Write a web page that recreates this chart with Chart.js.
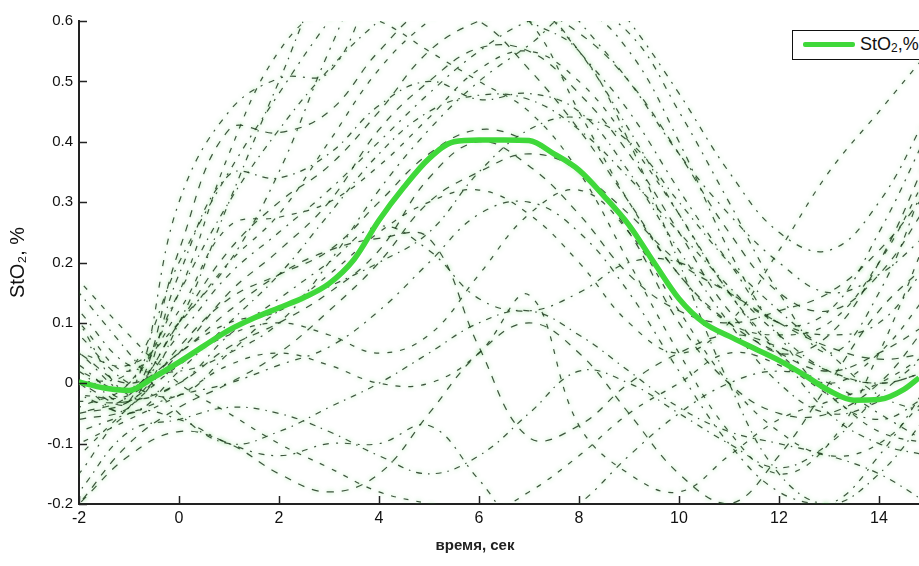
<!DOCTYPE html>
<html>
<head>
<meta charset="utf-8">
<script src="https://cdn.jsdelivr.net/npm/chart.js@4"></script>
<style>
  body { margin: 0; background: #fff; overflow: hidden; }
  #wrap { position: relative; width: 919px; height: 566px; }
  #legend {
    position: absolute; left: 792px; top: 30px; width: 150px; height: 28px;
    border: 1.5px solid #111; background: #fff;
    font-family: "Liberation Sans", Arial, sans-serif; font-size: 18px; color: #111;
  }
  #legend .swatch { position: absolute; left: 10px; top: 11px; width: 52px; height: 5px; background: #3fd83a; border-radius: 2px; }
  #legend .txt { position: absolute; left: 67px; top: 3px; }
  #legend sub { font-size: 12px; vertical-align: -2px; }
  #xtitle {
    position: absolute; left: 375px; width: 200px; top: 536px; text-align: center;
    font-family: "Liberation Sans", Arial, sans-serif; font-size: 15px; font-weight: bold; color: #222;
  }
</style>
</head>
<body>
<div id="wrap">
  <canvas id="chart" width="919" height="566"></canvas>
  <div id="legend"><span class="swatch"></span><span class="txt">StO<sub>2</sub>,%</span></div>
  <div id="xtitle">время, сек</div>
</div>
<script>
// averaged StO2 response
const mainX = [-2, -1.5, -1, -0.5, 0, 0.5, 1, 1.5, 2, 2.5, 3, 3.5, 4, 4.5, 5, 5.5, 6, 6.5, 7, 7.5, 8, 8.5, 9, 9.5, 10, 10.5, 11, 11.5, 12, 12.5, 13, 13.5, 14, 14.5, 14.8];
const mainY = [0.002, -0.008, -0.012, 0.01, 0.035, 0.062, 0.088, 0.108, 0.125, 0.142, 0.165, 0.205, 0.27, 0.325, 0.372, 0.4, 0.403, 0.403, 0.402, 0.38, 0.353, 0.31, 0.262, 0.2, 0.14, 0.1, 0.078, 0.058, 0.038, 0.014, -0.012, -0.028, -0.027, -0.01, 0.009];

// single trials (dashed background)
const trialX = [-2, -1, 0, 1, 2, 3, 4, 5, 6, 7, 8, 9, 10, 11, 12, 13, 14, 15];
const trial01 = [0.03, -0.02, 0.3, 0.45, 0.505, 0.515, 0.68, 0.8, 0.78, 0.7, 0.6, 0.5, 0.38, 0.28, 0.2, 0.15, 0.18, 0.25];
const trial02 = [0.0, -0.03, 0.22, 0.42, 0.415, 0.45, 0.55, 0.62, 0.6, 0.52, 0.42, 0.3, 0.18, 0.1, 0.05, 0.02, 0.05, 0.1];
const trial03 = [-0.02, -0.04, 0.18, 0.345, 0.34, 0.38, 0.46, 0.5, 0.47, 0.48, 0.45, 0.35, 0.22, 0.1, 0.0, -0.05, -0.03, 0.02];
const trial04 = [0.1, 0.02, 0.12, 0.26, 0.275, 0.3, 0.36, 0.44, 0.52, 0.55, 0.5, 0.4, 0.28, 0.15, 0.05, 0.0, 0.05, 0.15];
const trial05 = [0.05, -0.01, 0.1, 0.2, 0.35, 0.55, 0.72, 0.8, 0.75, 0.65, 0.55, 0.45, 0.32, 0.2, 0.1, 0.12, 0.25, 0.42];
const trial06 = [-0.05, -0.03, 0.05, 0.15, 0.22, 0.3, 0.42, 0.5, 0.555, 0.55, 0.48, 0.38, 0.25, 0.12, 0.05, 0.08, 0.2, 0.38];
const trial07 = [0.0, -0.05, 0.02, 0.1, 0.18, 0.28, 0.38, 0.45, 0.477, 0.47, 0.42, 0.34, 0.25, 0.16, 0.08, 0.02, 0.0, 0.02];
const trial08 = [-0.1, -0.06, -0.02, 0.03, 0.05, 0.03, 0.0, 0.0, 0.05, 0.146, -0.07, -0.15, -0.18, -0.12, -0.06, -0.03, 0.0, 0.05];
const trial09 = [-0.15, -0.05, -0.06, -0.1, -0.12, -0.1, -0.1, -0.07, -0.16, -0.25, -0.2, -0.12, -0.05, 0.0, 0.02, 0.0, -0.05, -0.1];
const trial10 = [0.05, 0.0, 0.05, 0.12, 0.18, 0.22, 0.24, 0.24, 0.06, -0.09, -0.07, 0.0, 0.05, 0.08, 0.06, 0.02, 0.0, 0.02];
const trial11 = [0.0, 0.0, 0.15, 0.3, 0.42, 0.52, 0.6, 0.66, 0.68, 0.64, 0.55, 0.42, 0.28, 0.15, 0.05, -0.05, -0.1, -0.12];
const trial12 = [-0.02, -0.02, 0.05, 0.1, 0.12, 0.18, 0.25, 0.3, 0.32, 0.28, 0.2, 0.1, 0.05, 0.1, 0.22, 0.35, 0.45, 0.55];
const trial13 = [-0.08, -0.05, -0.02, 0.0, 0.03, 0.06, 0.12, 0.2, 0.28, 0.3, 0.25, 0.15, 0.02, -0.1, -0.18, -0.2, -0.12, 0.0];
const trial14 = [-0.2, -0.1, -0.04, 0.0, 0.05, 0.12, 0.2, 0.3, 0.35, 0.38, 0.35, 0.25, 0.1, 0.0, -0.05, -0.05, 0.0, 0.1];
const trial15 = [0.15, 0.05, -0.05, -0.1, -0.08, -0.04, 0.0, 0.05, 0.1, 0.12, 0.08, 0.02, -0.04, -0.08, -0.1, -0.12, -0.15, -0.2];
const trial16 = [0.17, 0.08, 0.0, -0.05, -0.1, -0.14, -0.18, -0.2, -0.22, -0.18, -0.12, -0.05, 0.0, 0.05, 0.03, -0.02, -0.08, -0.1];
const trial17 = [0.0, 0.02, 0.2, 0.35, 0.48, 0.6, 0.7, 0.78, 0.8, 0.78, 0.7, 0.6, 0.48, 0.35, 0.25, 0.22, 0.3, 0.45];
const trial18 = [-0.05, -0.02, 0.1, 0.22, 0.3, 0.36, 0.45, 0.55, 0.6, 0.62, 0.58, 0.5, 0.38, 0.25, 0.15, 0.12, 0.18, 0.3];
const trial19 = [0.08, 0.0, -0.02, 0.05, 0.12, 0.16, 0.2, 0.25, 0.35, 0.42, 0.44, 0.4, 0.3, 0.2, 0.12, 0.05, -0.02, -0.05];
const trial20 = [-0.12, -0.04, 0.03, 0.08, 0.1, 0.08, 0.05, 0.08, 0.18, 0.28, 0.32, 0.25, 0.12, 0.0, -0.08, -0.12, -0.1, -0.02];
const trial21 = [0.02, -0.01, 0.08, 0.18, 0.25, 0.32, 0.4, 0.48, 0.55, 0.6, 0.62, 0.55, 0.4, 0.22, 0.08, -0.02, -0.06, -0.02];
const trial22 = [-0.03, -0.03, 0.0, 0.06, 0.1, 0.15, 0.22, 0.34, 0.4, 0.36, 0.28, 0.18, 0.12, 0.1, 0.12, 0.15, 0.22, 0.32];
const trial23 = [-0.18, -0.08, -0.06, -0.04, -0.05, -0.08, -0.12, -0.15, -0.12, -0.05, 0.02, 0.0, -0.05, -0.1, -0.14, -0.1, -0.02, 0.05];
const trial24 = [0.05, 0.03, 0.1, 0.2, 0.28, 0.4, 0.52, 0.6, 0.65, 0.6, 0.45, 0.3, 0.18, 0.1, 0.08, 0.1, 0.2, 0.35];
const trial25 = [0.1, -0.02, 0.0, 0.08, 0.14, 0.2, 0.26, 0.22, 0.14, 0.12, 0.15, 0.2, 0.2, 0.15, 0.1, 0.08, 0.1, 0.2];
const trial26 = [-0.06, -0.04, 0.06, 0.14, 0.18, 0.22, 0.3, 0.38, 0.42, 0.4, 0.35, 0.28, 0.2, 0.15, 0.1, 0.06, 0.04, 0.05];
const trial27 = [0.02, -0.03, 0.1, 0.3, 0.5, 0.68, 0.75, 0.72, 0.65, 0.6, 0.55, 0.4, 0.2, 0.0, -0.15, -0.2, -0.15, -0.05];
const trial28 = [-0.04, 0.0, 0.15, 0.38, 0.55, 0.62, 0.6, 0.55, 0.5, 0.45, 0.35, 0.2, 0.05, -0.08, -0.15, -0.1, 0.05, 0.25];
const trial29 = [0.12, 0.03, 0.02, 0.05, 0.1, 0.2, 0.32, 0.42, 0.5, 0.56, 0.62, 0.58, 0.45, 0.3, 0.15, 0.05, 0.15, 0.35];
const trial30 = [-0.2, -0.12, -0.08, -0.1, -0.15, -0.18, -0.15, -0.05, 0.05, 0.1, 0.05, -0.05, -0.15, -0.2, -0.12, 0.0, 0.12, 0.2];

const xTicks = [-2, 0, 2, 4, 6, 8, 10, 12, 14];
const yTicks = [-0.2, -0.1, 0, 0.1, 0.2, 0.3, 0.4, 0.5, 0.6];
const yTickLabels = ['-0.2', '-0.1', '0', '0.1', '0.2', '0.3', '0.4', '0.5', '0.6'];

const trials = [trial01, trial02, trial03, trial04, trial05, trial06, trial07, trial08, trial09, trial10, trial11, trial12, trial13, trial14, trial15,
  trial16, trial17, trial18, trial19, trial20, trial21, trial22, trial23, trial24, trial25, trial26, trial27, trial28, trial29, trial30];
const dashes = [[6, 7, 2, 7], [7, 8], [6, 6, 1.5, 6], [5, 8]];

const datasets = [{
  label: 'StO2,%',
  data: mainX.map((x, i) => ({ x: x, y: mainY[i] })),
  borderColor: '#3fd83a',
  borderWidth: 5.5,
  pointRadius: 0,
  cubicInterpolationMode: 'monotone'
}];
trials.forEach((vals, k) => {
  datasets.push({
    label: 'trial' + (k + 1),
    data: vals.map((y, i) => ({ x: trialX[i], y: y })),
    borderColor: 'rgba(30,55,30,0.85)',
    borderWidth: 1.2,
    borderDash: dashes[k % dashes.length],
    borderDashOffset: k * 3,
    pointRadius: 0,
    tension: 0.4
  });
});

// green halo around the thin trial lines
const glow = {
  id: 'glow',
  beforeDatasetDraw(chart, args) {
    if (args.index === 0) return;
    chart.ctx.save();
    chart.ctx.shadowColor = 'rgba(90,210,90,0.8)';
    chart.ctx.shadowBlur = 4;
  },
  afterDatasetDraw(chart, args) {
    if (args.index === 0) return;
    chart.ctx.restore();
  }
};

// short tick marks pointing into the plot
const innerTicks = {
  id: 'innerTicks',
  afterDraw(chart) {
    const ctx = chart.ctx;
    const x = chart.scales.x, y = chart.scales.y;
    ctx.save();
    ctx.strokeStyle = '#222';
    ctx.lineWidth = 1.5;
    ctx.beginPath();
    xTicks.forEach(v => {
      const px = Math.round(x.getPixelForValue(v)) + 0.5;
      ctx.moveTo(px, y.bottom);
      ctx.lineTo(px, y.bottom - 8);
    });
    yTicks.forEach(v => {
      const py = Math.round(y.getPixelForValue(v)) + 0.5;
      ctx.moveTo(x.left, py);
      ctx.lineTo(x.left + 8, py);
    });
    ctx.stroke();
    ctx.restore();
  }
};

const ctx = document.getElementById('chart').getContext('2d');
const chart = new Chart(ctx, {
  type: 'line',
  data: { datasets: datasets },
  options: {
    responsive: false,
    animation: false,
    layout: { padding: { top: 21, right: 0, left: 0, bottom: 0 } },
    plugins: { legend: { display: false }, tooltip: { enabled: false } },
    scales: {
      x: {
        type: 'linear',
        min: -2,
        max: 14.8,
        afterBuildTicks: s => { s.ticks = xTicks.map(v => ({ value: v })); },
        afterFit: s => { s.height = 62; },
        grid: { display: false, drawTicks: false },
        border: { display: true, color: '#222', width: 2 },
        ticks: {
          padding: 5,
          color: '#111',
          font: { family: 'Liberation Sans, Arial, sans-serif', size: 16 },
          maxRotation: 0
        }
      },
      y: {
        min: -0.2,
        max: 0.6,
        afterBuildTicks: s => { s.ticks = yTicks.map(v => ({ value: v })); },
        afterFit: s => { s.width = 79; },
        grid: { display: false, drawTicks: false },
        border: { display: true, color: '#222', width: 2 },
        ticks: {
          padding: 6,
          color: '#111',
          font: { family: 'Liberation Sans, Arial, sans-serif', size: 15 },
          callback: (v, i) => yTickLabels[i]
        },
        title: {
          display: true,
          text: 'StO₂, %',
          color: '#111',
          padding: { top: 6, bottom: 0 },
          font: { family: 'Liberation Sans, Arial, sans-serif', size: 20 }
        }
      }
    }
  },
  plugins: [glow, innerTicks]
});
</script>
</body>
</html>
